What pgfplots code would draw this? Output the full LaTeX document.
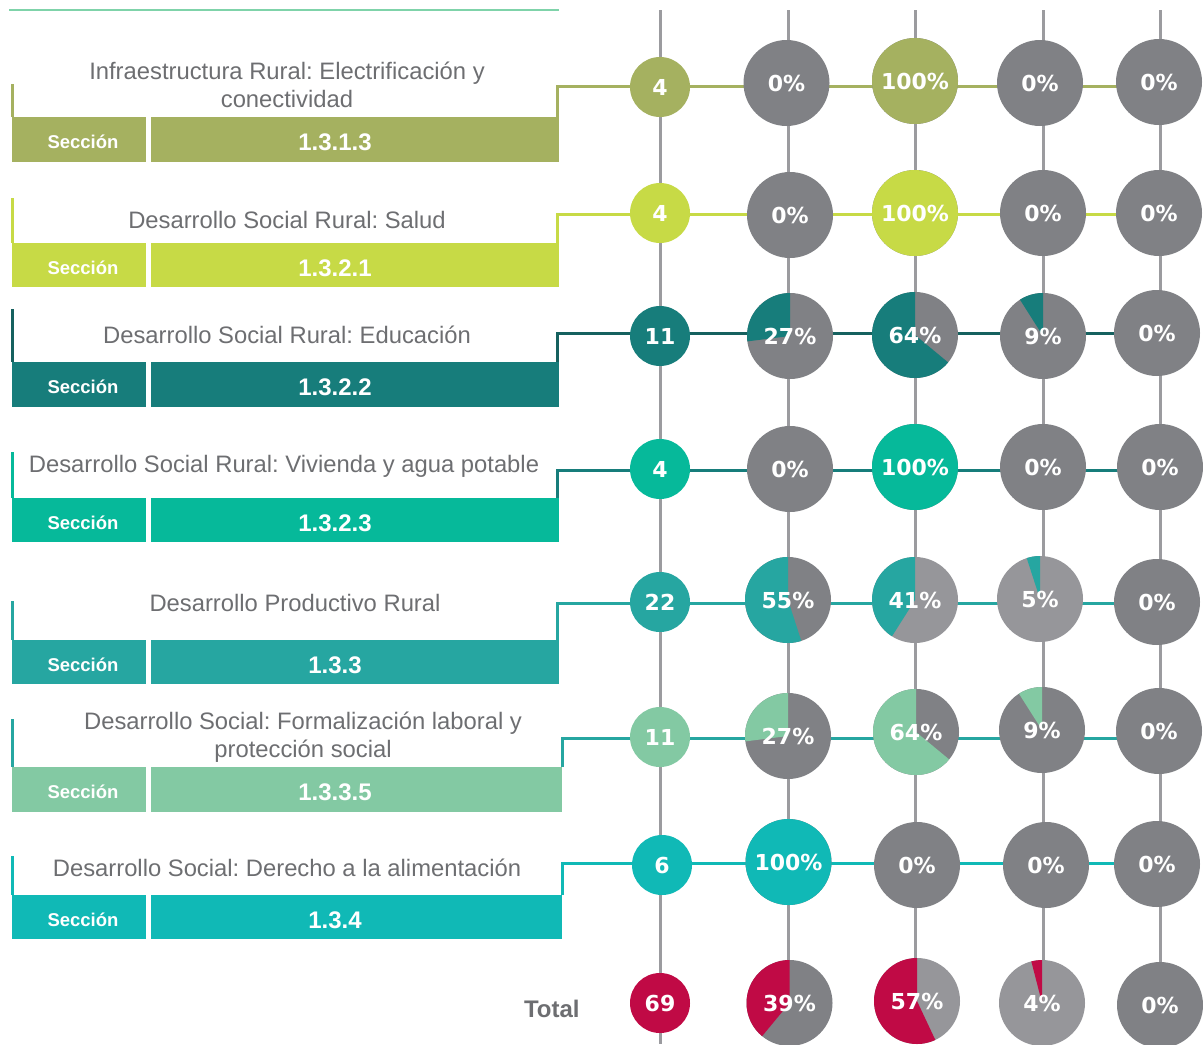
\documentclass[border=0pt]{standalone}
\usepackage{pgfplots}
\pgfplotsset{compat=1.18}
\usepackage{fontspec}
\setmainfont{Liberation Sans}
\newfontfamily\heavy{DejaVu Sans}
\frenchspacing
\definecolor{cA}{HTML}{A5B160}
\definecolor{cB}{HTML}{C7DA46}
\definecolor{cC}{HTML}{177D7B}
\definecolor{cCd}{HTML}{16615F}
\definecolor{cD}{HTML}{06B99A}
\definecolor{cE}{HTML}{26A6A1}
\definecolor{cF}{HTML}{83C9A3}
\definecolor{cG}{HTML}{10B9B6}
\definecolor{cR}{HTML}{C00A45}
\definecolor{gD}{HTML}{808185}
\definecolor{gL}{HTML}{96969A}
\definecolor{gLine}{HTML}{9B9B9F}
\definecolor{tgray}{HTML}{6D6E71}
\definecolor{topline}{HTML}{7FD3AA}
\pgfplotsset{pie color/.initial=black}
\tikzset{
  ttl/.style={anchor=base, font=\fontsize{11.9}{13}\selectfont, text=tgray, inner sep=0pt},
  sec/.style={anchor=base, font=\bfseries\fontsize{9.25}{10}\selectfont, text=white, inner sep=0pt},
  code/.style={anchor=base, font=\bfseries\fontsize{12}{12}\selectfont, text=white, inner sep=0pt},
}
\begin{document}
\begin{tikzpicture}
\begin{axis}[
  width=601.5pt, height=522pt, scale only axis,
  xmin=0, xmax=1203, ymin=0, ymax=1044, y dir=reverse,
  hide axis, clip=false,
  pie plot/.style={scatter, only marks, mark=*, mark size=0pt,
    visualization depends on={value \thisrow{k}\as\kval},
    visualization depends on={value \thisrow{v}\as\vval},
    visualization depends on={value \thisrow{g}\as\gval},
    scatter/@pre marker code/.code={%
      \ifnum\kval=0
        \fill[draw=none, fill=\pgfkeysvalueof{/pgfplots/pie color}] (0,0) circle[radius=15pt];
        \node[font=\heavy\bfseries\fontsize{11}{11}\selectfont, text=white, inner sep=0pt, draw=none] at (0,0) {\vval};
      \else
        \ifnum\gval=0 \def\gc{gD}\else\def\gc{gL}\fi
        \fill[draw=none, fill=\gc] (0,0) circle[radius=21.5pt];
        \ifnum\vval>0
          \pgfmathsetmacro\dang{3.6*\vval}
          \fill[draw=none, fill=\pgfkeysvalueof{/pgfplots/pie color}] (0,0) -- (0,21.5pt) arc[start angle=90, delta angle=\dang, radius=21.5pt] -- cycle;
        \fi
        \node[font=\heavy\bfseries\fontsize{11}{11}\selectfont, text=white, inner sep=0pt, draw=none] at (0,0) {\vval\%};
      \fi
    },
    scatter/@post marker code/.code={}},
  gline/.style={gLine, line width=1.5pt, mark=none},
  conn/.style={line width=1.5pt, mark=none},
]
\coordinate (bbsw) at (axis cs:0,1044);
\coordinate (bbne) at (axis cs:1203,0);

% vertical grid lines
\addplot[gline] coordinates {(660,10) (660,1044)};
\addplot[gline] coordinates {(788.5,10) (788.5,1044)};
\addplot[gline] coordinates {(915,10) (915,1044)};
\addplot[gline] coordinates {(1043,10) (1043,1044)};
\addplot[gline] coordinates {(1160,10) (1160,1044)};

% top line
\draw[topline, line width=0.6pt] (axis cs:9,10) -- (axis cs:559,10);

% row connectors
\addplot[conn, cA] coordinates {(557,117) (557,86) (1160,86)};
\addplot[conn, cB] coordinates {(557,243) (557,214) (1160,214)};
\addplot[conn, cCd] coordinates {(557,362) (557,333) (1160,333)};
\addplot[conn, cC] coordinates {(557,498) (557,470) (1160,470)};
\addplot[conn, cE] coordinates {(557,640) (557,603) (1160,603)};
\addplot[conn, cE] coordinates {(562,767) (562,738) (1160,738)};
\addplot[conn, cG] coordinates {(562,895) (562,863) (1160,863)};

% left vertical lines
\draw[cA, line width=1.2pt] (axis cs:12.5,84) -- (axis cs:12.5,117);
\draw[cB, line width=1.2pt] (axis cs:12.5,198) -- (axis cs:12.5,243);
\draw[cCd, line width=1.2pt] (axis cs:12.5,309) -- (axis cs:12.5,362);
\draw[cD, line width=1.2pt] (axis cs:12.5,452) -- (axis cs:12.5,498);
\draw[cE, line width=1.2pt] (axis cs:12.5,601) -- (axis cs:12.5,640);
\draw[cE, line width=1.2pt] (axis cs:12.5,719) -- (axis cs:12.5,767);
\draw[cG, line width=1.2pt] (axis cs:12.5,856) -- (axis cs:12.5,895);

% boxes
\fill[cA] (axis cs:11.5,117) rectangle (axis cs:146,162);
\fill[cA] (axis cs:151,117) rectangle (axis cs:558.5,162);
\fill[cB] (axis cs:11.5,243) rectangle (axis cs:146,287);
\fill[cB] (axis cs:151,243) rectangle (axis cs:558.5,287);
\fill[cC] (axis cs:11.5,362) rectangle (axis cs:146,407);
\fill[cC] (axis cs:151,362) rectangle (axis cs:558.5,407);
\fill[cD] (axis cs:11.5,498) rectangle (axis cs:146,542);
\fill[cD] (axis cs:151,498) rectangle (axis cs:558.5,542);
\fill[cE] (axis cs:11.5,640) rectangle (axis cs:146,684);
\fill[cE] (axis cs:151,640) rectangle (axis cs:558.5,684);
\fill[cF] (axis cs:11.5,767) rectangle (axis cs:146,812);
\fill[cF] (axis cs:151,767) rectangle (axis cs:562,812);
\fill[cG] (axis cs:11.5,895) rectangle (axis cs:146,939);
\fill[cG] (axis cs:151,895) rectangle (axis cs:562,939);

% titles
\node[ttl] at (axis cs:287,79) {Infraestructura Rural: Electrificación y};
\node[ttl] at (axis cs:287,107) {conectividad};
\node[ttl] at (axis cs:287,228) {Desarrollo Social Rural: Salud};
\node[ttl] at (axis cs:287,343) {Desarrollo Social Rural: Educación};
\node[ttl] at (axis cs:284,472) {Desarrollo Social Rural: Vivienda y agua potable};
\node[ttl] at (axis cs:295,611) {Desarrollo Productivo Rural};
\node[ttl] at (axis cs:303,729) {Desarrollo Social: Formalización laboral y};
\node[ttl] at (axis cs:303,757) {protección social};
\node[ttl] at (axis cs:287,876) {Desarrollo Social: Derecho a la alimentación};

% section labels
\node[sec] at (axis cs:83,148) {Sección};
\node[code] at (axis cs:335,150.5) {1.3.1.3};
\node[sec] at (axis cs:83,274) {Sección};
\node[code] at (axis cs:335,276.5) {1.3.2.1};
\node[sec] at (axis cs:83,393) {Sección};
\node[code] at (axis cs:335,395.5) {1.3.2.2};
\node[sec] at (axis cs:83,529) {Sección};
\node[code] at (axis cs:335,531.5) {1.3.2.3};
\node[sec] at (axis cs:83,671) {Sección};
\node[code] at (axis cs:335,673.5) {1.3.3};
\node[sec] at (axis cs:83,798) {Sección};
\node[code] at (axis cs:335,800.5) {1.3.3.5};
\node[sec] at (axis cs:83,926) {Sección};
\node[code] at (axis cs:335,928.5) {1.3.4};

\node[anchor=base east, font=\bfseries\fontsize{12}{12}\selectfont, text=tgray, inner sep=0pt] at (axis cs:580,1017.5) {Total};

% circles and pies: k=0 count, k=1 percentage; g=1 lighter grey
\addplot[pie plot, pie color=cA] table {
x y k v g
660 87 0 4 0
786.5 83 1 0 0
915 81 1 100 0
1040 83 1 0 0
1159 82 1 0 0
};
\addplot[pie plot, pie color=cB] table {
x y k v g
660 213 0 4 0
790 215 1 0 0
915 213 1 100 0
1043 213 1 0 0
1159 213 1 0 0
};
\addplot[pie plot, pie color=cC] table {
x y k v g
660 336 0 11 0
790 336 1 27 0
915 335 1 64 0
1043 336 1 9 0
1157 333 1 0 0
};
\addplot[pie plot, pie color=cD] table {
x y k v g
660 469 0 4 0
790 469 1 0 0
915 467 1 100 0
1043 467 1 0 0
1160 467 1 0 0
};
\addplot[pie plot, pie color=cE] table {
x y k v g
660 602 0 22 0
788 600 1 55 0
915 600 1 41 1
1040 599 1 5 1
1157 602 1 0 0
};
\addplot[pie plot, pie color=cF] table {
x y k v g
660 737 0 11 0
788 736 1 27 0
916 732 1 64 0
1042 730 1 9 0
1159 731 1 0 0
};
\addplot[pie plot, pie color=cG] table {
x y k v g
662 865 0 6 0
788.5 862 1 100 0
917 865 1 0 0
1046 865 1 0 0
1157 864 1 0 0
};
\addplot[pie plot, pie color=cR] table {
x y k v g
660 1003 0 69 0
789.5 1003 1 39 0
917 1001 1 57 1
1042 1003 1 4 1
1160 1005 1 0 0
};
\end{axis}
\pgfresetboundingbox
\useasboundingbox (bbsw) rectangle (bbne);
\end{tikzpicture}
\end{document}
